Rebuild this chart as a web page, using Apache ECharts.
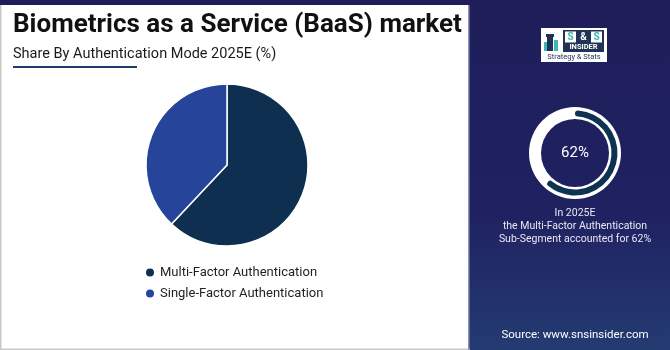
<!DOCTYPE html>
<html>
<head>
<meta charset="utf-8">
<script src="https://cdn.jsdelivr.net/npm/echarts@6/dist/echarts.min.js"></script>
<style>
html,body{margin:0;padding:0;background:#fff;}
#c{width:670px;height:350px;}
</style>
</head>
<body>
<div id="c"></div>
<script>
var categories = ['Multi-Factor Authentication', 'Single-Factor Authentication'];
var shares = [62, 38];
var colors = ['#0e2f4f', '#25449a'];
var highlight = shares[0];

var chart = echarts.init(document.getElementById('c'), null, {renderer: 'canvas'});
var FONT = 'Roboto, "Noto Sans", sans-serif';

var option = {
  animation: false,
  textStyle: {fontFamily: FONT},
  legend: {
    orient: 'vertical',
    left: 139,
    top: 261,
    itemWidth: 10,
    itemHeight: 10,
    itemGap: 8,
    icon: 'circle',
    data: categories,
    textStyle: {fontSize: 13, color: '#1f1f1f', fontFamily: FONT}
  },
  graphic: [
    {type: 'rect', shape: {x: 469, y: 0, width: 201, height: 350}, z: -10,
      style: {fill: {type: 'linear', x: 0, y: 0, x2: 0, y2: 1, colorStops: [
        {offset: 0, color: '#1f1e5b'}, {offset: 0.6, color: '#1f2160'}, {offset: 1, color: '#243b72'}]}}},
    {type: 'rect', shape: {x: 0, y: 0, width: 470, height: 5}, z: -10, style: {fill: '#1f1e5b'}},
    {type: 'rect', shape: {x: 0, y: 5, width: 1.5, height: 345}, z: -10, style: {fill: '#c8c8c8'}},
    {type: 'rect', shape: {x: 0, y: 348.5, width: 470, height: 1.5}, z: -10, style: {fill: '#c8c8c8'}},
    {type: 'rect', shape: {x: 468, y: 5, width: 1.5, height: 345}, z: -10, style: {fill: '#8f93b8'}},
    {type: 'text', left: 13, top: 12, style: {text: 'Biometrics as a Service (BaaS) market', fontSize: 26, fontWeight: 'bold', fill: '#111', fontFamily: FONT}},
    {type: 'text', left: 13, top: 47, style: {text: 'Share By Authentication Mode 2025E (%)', fontSize: 14.5, fill: '#1a1a1a', fontFamily: FONT}},
    {type: 'rect', shape: {x: 13, y: 66, width: 124, height: 2}, style: {fill: '#1f3a6a'}},
    // logo
    {type: 'rect', shape: {x: 541, y: 28, width: 66, height: 34}, style: {fill: '#ffffff'}},
    {type: 'rect', shape: {x: 563, y: 30, width: 41, height: 22}, style: {fill: '#1e3355'}},
    {type: 'rect', shape: {x: 565, y: 31.5, width: 11, height: 11}, style: {fill: '#ffffff'}},
    {type: 'rect', shape: {x: 591, y: 31.5, width: 11, height: 11}, style: {fill: '#ffffff'}},
    {type: 'text', x: 570.5, y: 37.5, style: {text: 'S', fontSize: 10, fontWeight: 'bold', fill: '#3fb5b5', align: 'center', verticalAlign: 'middle', fontFamily: FONT}},
    {type: 'text', x: 583.5, y: 37.5, style: {text: '&', fontSize: 10, fontWeight: 'bold', fill: '#ffffff', align: 'center', verticalAlign: 'middle', fontFamily: FONT}},
    {type: 'text', x: 596.5, y: 37.5, style: {text: 'S', fontSize: 10, fontWeight: 'bold', fill: '#3fb5b5', align: 'center', verticalAlign: 'middle', fontFamily: FONT}},
    {type: 'text', x: 583.5, y: 47.5, style: {text: 'INSIDER', fontSize: 7.5, fontWeight: 'bold', fill: '#ffffff', align: 'center', verticalAlign: 'middle', fontFamily: FONT}},
    {type: 'text', x: 574, y: 57.5, style: {text: 'Strategy & Stats', fontSize: 7.5, fill: '#1e3355', align: 'center', verticalAlign: 'middle', fontFamily: FONT}},
    {type: 'rect', shape: {x: 546, y: 34, width: 8, height: 3}, style: {fill: '#1e3355'}},
    {type: 'rect', shape: {x: 547, y: 37, width: 6, height: 14}, style: {fill: '#1e3355'}},
    {type: 'rect', shape: {x: 554, y: 40, width: 4, height: 11}, style: {fill: '#3fb5b5'}},
    {type: 'rect', shape: {x: 544, y: 42, width: 3, height: 9}, style: {fill: '#3fb5b5'}},
    // right texts
    {type: 'text', x: 575, y: 153, style: {text: highlight + '%', fontSize: 15, fill: '#ffffff', align: 'center', verticalAlign: 'middle', fontFamily: FONT}},
    {type: 'text', x: 575, y: 226, style: {text: 'In 2025E\nthe Multi-Factor Authentication\nSub-Segment accounted for ' + highlight + '%', fontSize: 10.5, lineHeight: 13, fill: '#e8e8f4', align: 'center', verticalAlign: 'middle', fontFamily: FONT}},
    {type: 'text', x: 575, y: 335, style: {text: 'Source: www.snsinsider.com', fontSize: 11.5, fill: '#ffffff', align: 'center', verticalAlign: 'middle', fontFamily: FONT}}
  ],
  series: [
    {
      type: 'pie',
      center: [227, 165],
      radius: [0, 81],
      startAngle: 90,
      clockwise: true,
      label: {show: false},
      labelLine: {show: false},
      silent: true,
      itemStyle: {borderColor: '#ffffff', borderWidth: 1.5},
      data: categories.map(function (c, i) { return {name: c, value: shares[i], itemStyle: {color: colors[i]}}; })
    },
    {
      type: 'pie',
      center: [575, 153],
      radius: [34, 46],
      silent: true,
      label: {show: false},
      labelLine: {show: false},
      itemStyle: {borderWidth: 0},
      data: [{name: 'ring', value: 100, itemStyle: {color: '#ffffff'}}]
    },
    {
      type: 'pie',
      center: [575, 153],
      radius: [36.5, 42.5],
      startAngle: 90,
      clockwise: true,
      silent: true,
      z: 3,
      label: {show: false},
      labelLine: {show: false},
      itemStyle: {borderWidth: 0, borderRadius: 3},
      data: [
        {name: 'hl', value: shares[0], itemStyle: {color: '#0e3352'}},
        {name: 'rest', value: 100 - shares[0], itemStyle: {color: 'rgba(0,0,0,0)'}}
      ]
    }
  ]
};
chart.setOption(option);
</script>
</body>
</html>
